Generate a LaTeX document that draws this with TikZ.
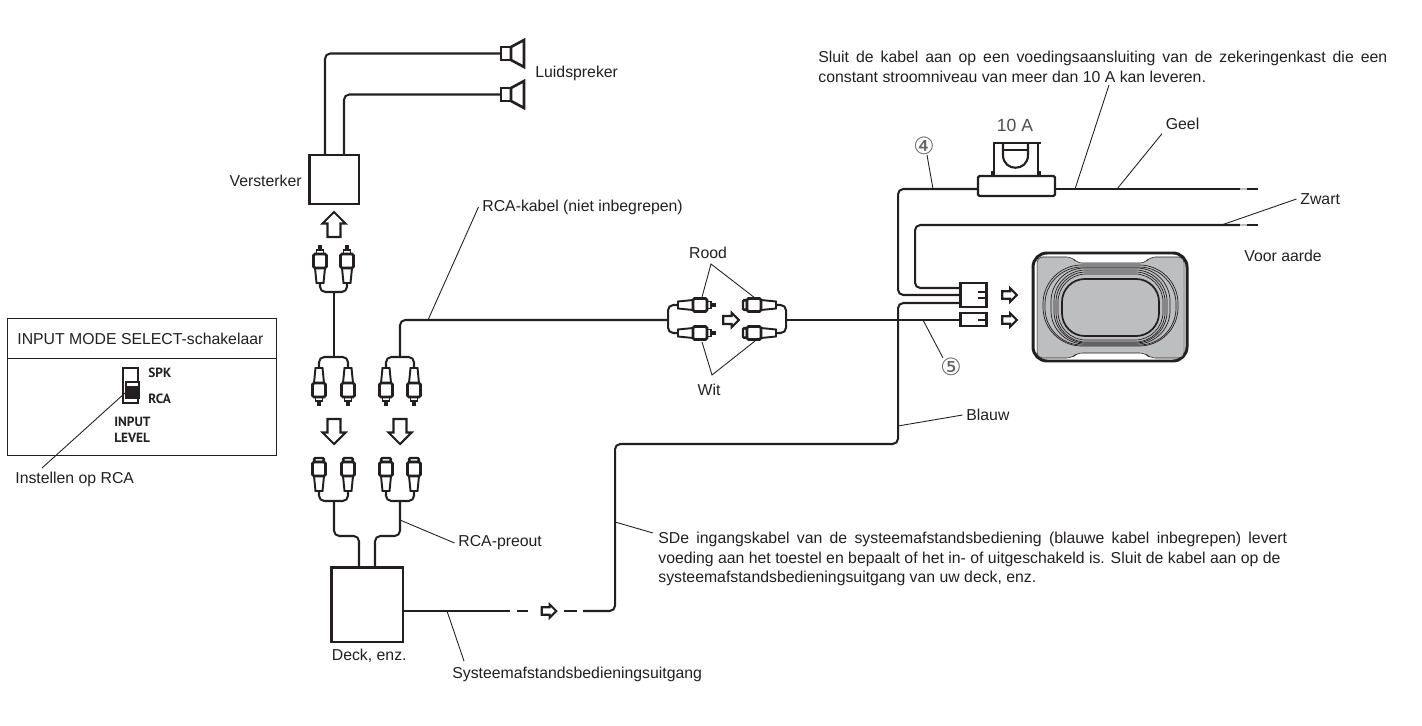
\documentclass[tikz,border=0pt]{standalone}
\usepackage{fontspec}
\usepackage{xcolor}
\setmainfont{Liberation Sans}
\newfontfamily\circlefont{DejaVu Sans}
\newfontfamily\panelfont{PT Sans}
\definecolor{inkBlack}{RGB}{35, 31, 32}
\definecolor{coneGray}{RGB}{188, 190, 192}

\begin{document}
\begin{tikzpicture}[x=0.02cm, y=-0.02cm]
    \tikzstyle{cable} = [draw=inkBlack, line width=1.15pt, rounded corners=3pt]
    \tikzstyle{leader} = [draw=inkBlack, line width=0.5pt]
    \tikzstyle{outline} = [draw=inkBlack, line width=1.1pt, fill=white]
    \tikzstyle{box} = [rectangle, draw=inkBlack, line width=1.7pt, fill=white, inner sep=0pt, outer sep=0pt]
    \tikzstyle{caption} = [text=inkBlack, inner sep=2pt, font=\fontsize{9}{11}\selectfont]
    \tikzstyle{paneltext} = [text=inkBlack, inner sep=0pt, font=\panelfont\bfseries\fontsize{7.6}{9}\selectfont]
    \tikzstyle{circled} = [text=inkBlack!70, inner sep=0pt, font=\circlefont\fontsize{13.5}{14}\selectfont]
    \tikzset{
        rcamale/.pic={
            \draw[outline] (-3.5,0) -- (-5,15) -- (5,15) -- (3.5,0) -- cycle;
            \draw[outline, line width=0.8pt] (-3.5,29) rectangle (3.5,33);
            \fill[inkBlack] (-1.7,33) rectangle (1.7,38);
            \draw[outline, line width=1.5pt, rounded corners=0.8pt] (-6.5,15) rectangle (6.5,29);
        },
        rcafemale/.pic={
            \draw[outline] (-3.5,0) -- (-5,15) -- (5,15) -- (3.5,0) -- cycle;
            \draw[outline, line width=1.4pt, rounded corners=0.8pt] (-5,29) rectangle (5,33);
            \draw[outline, line width=1.5pt, rounded corners=0.8pt] (-6.5,15) rectangle (6.5,29);
        },
        fatarrow/.pic={
            \draw[outline, line width=1.2pt] (-12.5,-6.5) -- (1,-6.5) -- (1,-11.5) -- (12.5,0) -- (1,11.5) -- (1,6.5) -- (-12.5,6.5) -- cycle;
        },
        horn/.pic={
            \draw[outline, line width=1.5pt] (0,-6.5) rectangle (10,6.5);
            \draw[outline, line width=1.5pt] (10,-6.5) -- (23,-13.5) -- (23,13.5) -- (10,6.5) -- cycle;
        }
    }
    \useasboundingbox (0,0) rectangle (1422,726);

    % boxes and connectors
    \node[box, minimum width=1cm, minimum height=0.98cm] (amp) at (334,179.5) {};
    \node[box, minimum width=1.44cm, minimum height=1.5cm] (deck) at (367,604.5) {};
    \node[box, line width=1.3pt, minimum width=1.54cm, minimum height=0.4cm, rounded corners=0.8pt] (fuse) at (1016.5,186) {};
    \node[box, minimum width=0.52cm, minimum height=0.48cm] (conBig) at (973,295) {};
    \node[box, minimum width=0.52cm, minimum height=0.26cm] (conSmall) at (973,319.5) {};

    % cable points
    \coordinate (ampL) at (325,155);
    \coordinate (ampR) at (344,155);
    \coordinate (spkA) at (501,53.5);
    \coordinate (spkB) at (501,94.5);
    \coordinate (forkA) at (334,292);
    \coordinate (forkB) at (334,357);
    \coordinate (forkC) at (400,357);
    \coordinate (forkD) at (334,501);
    \coordinate (forkE) at (400,501);
    \coordinate (forkF) at (668,320);
    \coordinate (forkG) at (786,320);
    \coordinate (deckL) at (359,567);
    \coordinate (deckR) at (375,567);
    \coordinate (deckOut) at (403,611);
    \coordinate (fuseL) at (978,189);
    \coordinate (fuseR) at (1055,189);
    \coordinate (conRed) at (960,295);
    \coordinate (conBlack) at (960,288);
    \coordinate (conBlue) at (960,303);
    \coordinate (conFive) at (960,320);
    \coordinate (endYellow) at (1240,189);
    \coordinate (endBlack) at (1240,225);

    % cables
    \draw[cable] (ampL) |- (spkA);
    \draw[cable] (ampR) |- (spkB);
    \draw[cable] (320,283) |- (forkA) -| (347,283);
    \draw[cable] (forkA) -- (forkB);
    \draw[cable] (319,368) |- (forkB) -| (348,368);
    \draw[cable] (386,368) |- (forkC) -| (414,368);
    \draw[cable] (319,491) |- (forkD) -| (348,491);
    \draw[cable] (386,491) |- (forkE) -| (414,491);
    \draw[cable] (forkD) |- (347,536) -| (deckL);
    \draw[cable] (forkE) |- (388,536) -| (deckR);
    \draw[cable] (forkC) |- (forkF);
    \draw[cable] (678,305) -| (forkF) |- (678,333);
    \draw[cable] (776,305) -| (forkG) |- (776,333);
    \draw[cable] (forkG) -- (conFive);
    \draw[cable] (fuseL) -| (898,250) |- (conRed);
    \draw[cable] (endBlack) -| (915,260) |- (conBlack);
    \draw[cable] (fuseR) -- (endYellow);
    \draw[cable] (deckOut) -- (510,611);
    \draw[cable] (517,611) -- (528,611);
    \draw[cable] (564,611) -- (577,611);
    \draw[cable] (583,611) -| (615,500) |- (750,444) -| (898,350) |- (conBlue);
    \foreach \wy in {189, 225} {
        \draw[draw=coneGray, line width=1.15pt] (1240,\wy) -- (1247,\wy);
        \draw[cable] (1247,\wy) -- (1258,\wy);
    }

    % speakers
    \pic at (spkA) {horn};
    \pic at (spkB) {horn};

    % plugs
    \foreach \px in {320, 347} { \pic[rotate=180] at (\px,283) {rcamale}; }
    \foreach \px in {319, 348, 386, 414} {
        \pic at (\px,368) {rcamale};
        \pic[rotate=180] at (\px,491) {rcafemale};
    }
    \foreach \py in {305, 333} {
        \pic[rotate=90] at (678,\py) {rcamale};
        \pic[rotate=-90] at (776,\py) {rcafemale};
    }

    % arrows
    \pic[rotate=90] at (334,224.5) {fatarrow};
    \pic[rotate=-90] at (334,431.5) {fatarrow};
    \pic[rotate=-90] at (400,431.5) {fatarrow};
    \pic[scale=0.62] at (731,320) {fatarrow};
    \pic[scale=0.58] at (549,611) {fatarrow};
    \pic[scale=0.58] at (1009.5,295) {fatarrow};
    \pic[scale=0.58] at (1009.5,320) {fatarrow};

    % connector notches
    \draw[inkBlack, line width=1.3pt] (978,292) -- (986,292) (978,298) -- (986,298) (978,320) -- (986,320);

    % fuse
    \draw[inkBlack, line width=1.2pt] (994,176) -- (994,143) -- (1041,143);
    \draw[inkBlack, line width=1.2pt] (1038,143) -- (1038,176);
    \draw[inkBlack, line width=1.2pt] (1003,143) -- (1003,155) .. controls (1003,172) and (1028,172) .. (1028,155) -- (1028,143);
    \draw[inkBlack, line width=0.8pt] (1003,150) -- (1028,150);
    \draw[inkBlack, line width=0.7pt] (992,176) -- (992,171) (1040,176) -- (1040,171);

    % woofer
    \draw[inkBlack, line width=1.7pt, fill=white, rounded corners=8pt] (1033,253) rectangle (1187,361);
    \draw[inkBlack, line width=0.3pt, fill=coneGray, rounded corners=3pt] (1037,257) -- (1072,257) -- (1077,263) -- (1145,263) -- (1150,257) -- (1184,257) -- (1184,358) -- (1150,358) -- (1145,353) -- (1077,353) -- (1072,358) -- (1037,358) -- cycle;
    \foreach \ix/\it/\ib/\rad in {0/0/0/22, 2/2/1/21, 8/3/2/19, 11/5/3/18, 13/7/4/17, 15/9/6/16} {
        \draw[inkBlack, line width=0.4pt, rounded corners=\rad pt] (1043+\ix,265+\it) rectangle (1178-\ix,346-\ib);
    }
    \draw[inkBlack, line width=1pt, rounded corners=13pt] (1062,279) rectangle (1159,336);

    % switch panel
    \node[rectangle, draw=inkBlack, line width=0.45pt, minimum width=5.38cm, minimum height=2.74cm, inner sep=0pt] (panel) at (141.5,386.5) {};
    \coordinate (panelDiv) at (7,358);
    \draw[inkBlack, line width=0.45pt] (panelDiv) -- (panelDiv -| panel.east);
    \node[caption, anchor=west] (title) at (13.5,339) {INPUT MODE SELECT-schakelaar};
    \node[rectangle, draw=inkBlack, line width=0.6pt, minimum width=0.3cm, minimum height=0.7cm, inner sep=0pt] (switch) at (130.5,385.5) {};
    \draw[inkBlack, line width=0.6pt, fill=white] (126,382) rectangle (139,398);
    \fill[inkBlack] (126,385.5) rectangle (139,398);
    \node[paneltext, anchor=west] (spk) at (148,373) {SPK};
    \node[paneltext, anchor=west] (rca) at (148,399) {RCA};
    \node[paneltext, anchor=west] (input) at (114,422) {INPUT};
    \node[paneltext, anchor=west] (level) at (114,438) {LEVEL};

    % labels
    \node[caption, anchor=west] (luid) at (531.5,73) {Luidspreker};
    \node[caption, anchor=east] (verst) at (305.5,181) {Versterker};
    \node[caption, anchor=west] (rcakabel) at (478.5,207) {RCA-kabel (niet inbegrepen)};
    \node[caption, anchor=west] (preout) at (454.5,543) {RCA-preout};
    \node[caption, anchor=west] (decklabel) at (328,656) {Deck, enz.};
    \node[caption, anchor=west] (remote) at (448.5,674) {Systeemafstandsbedieningsuitgang};
    \node[caption, anchor=west] (instel) at (11.5,479) {Instellen op RCA};
    \node[caption] (rood) at (708,253) {Rood};
    \node[caption] (wit) at (709,390) {Wit};
    \node[caption, anchor=west] (geel) at (1162,124) {Geel};
    \node[caption, anchor=west] (zwart) at (1296.5,199) {Zwart};
    \node[caption, anchor=west] (aarde) at (1240.5,256) {Voor aarde};
    \node[caption, anchor=west] (blauw) at (962.5,415) {Blauw};
    \node[text=inkBlack!80, inner sep=0pt, font=\fontsize{10}{12}\selectfont] (fuseval) at (1015,125) {10 A};
    \node[circled] (four) at (924,146) {④};
    \node[circled] (five) at (951,367) {⑤};
    \node[caption, anchor=north west, align=left, inner sep=0pt, font=\fontsize{9}{11.2}\selectfont] (note) at (818,51) {\makebox[11.38cm][s]{Sluit de kabel aan op een voedingsaansluiting van de zekeringenkast die een}\\constant stroomniveau van meer dan 10 A kan leveren.};
    \node[caption, anchor=north west, align=left, inner sep=0pt, font=\fontsize{9}{11}\selectfont] (remnote) at (658,532) {\makebox[12.58cm][s]{SDe ingangskabel van de systeemafstandsbediening (blauwe kabel inbegrepen) levert}\\voeding aan het toestel en bepaalt of het in- of uitgeschakeld is. Sluit de kabel aan op de\\systeemafstandsbedieningsuitgang van uw deck, enz.};

    % leaders
    \coordinate (tipRed) at (702,297);
    \coordinate (tipRedB) at (755,298);
    \coordinate (tipWhite) at (702,342);
    \coordinate (tipWhiteB) at (755,341);
    \coordinate (apexRood) at (711,264);
    \coordinate (apexWit) at (712,375);
    \draw[leader] (rcakabel.west) -- (428,320);
    \draw[leader] (preout.west) -- (400,520);
    \draw[leader] (464,661) -- (447,611);
    \draw[leader] (42,468) -- (125,393);
    \draw[leader] (tipRed) -- (apexRood) -- (tipRedB);
    \draw[leader] (tipWhite) -- (apexWit) -- (tipWhiteB);
    \draw[leader] (geel.south west) -- (1117,189);
    \draw[leader] (zwart.west) -- (1223,224.5);
    \draw[leader] (blauw.west) -- (898,426);
    \draw[leader] (653,533) -- (615,522);
    \draw[leader] (1109,85) -- (1075,189);
    \draw[leader] (927,155) -- (933,189);
    \draw[leader] (943,358) -- (923,320);
\end{tikzpicture}
\end{document}
